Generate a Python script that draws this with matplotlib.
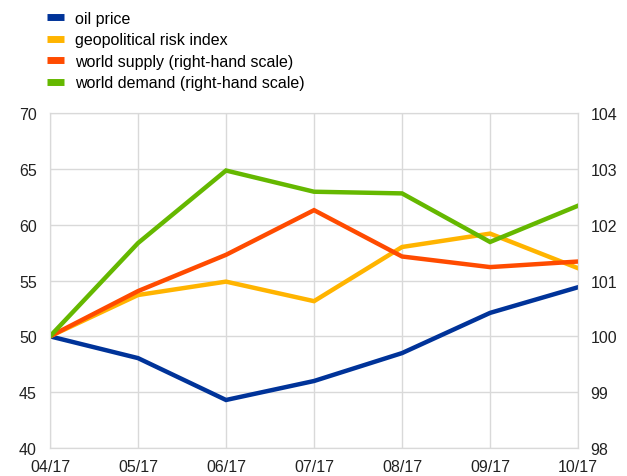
import matplotlib.pyplot as plt
from matplotlib.lines import Line2D

plt.rcParams['font.family'] = ['Liberation Sans', 'DejaVu Sans']

months = ["04/17", "05/17", "06/17", "07/17", "08/17", "09/17", "10/17"]
oil_price = [50.0, 48.05, 44.3, 46.0, 48.5, 52.1, 54.4]
geo_risk = [50.0, 53.7, 54.9, 53.15, 58.0, 59.2, 56.1]
world_supply = [100.0, 100.81, 101.46, 102.26, 101.43, 101.24, 101.34]
world_demand = [100.0, 101.67, 102.97, 102.59, 102.56, 101.69, 102.34]

labels = ["oil price", "geopolitical risk index",
          "world supply (right-hand scale)", "world demand (right-hand scale)"]
colors = ["#003399", "#FFB400", "#FF4B00", "#65B800"]
grid_c = "#d9d9d9"

fig = plt.figure(figsize=(6.27, 4.77), dpi=100)
ax = fig.add_axes([0.0797, 0.0587, 0.8423, 0.7023])
ax2 = ax.twinx()

x = range(len(months))
ax.plot(x, oil_price, color=colors[0], lw=3.2, solid_joinstyle='miter')
ax.plot(x, geo_risk, color=colors[1], lw=3.2, solid_joinstyle='miter')
ax2.plot(x, world_supply, color=colors[2], lw=3.2, solid_joinstyle='miter')
ax2.plot(x, world_demand, color=colors[3], lw=3.2, solid_joinstyle='miter')

ax.set_xlim(0, len(months) - 1)
ax.set_ylim(40, 70)
ax2.set_ylim(98, 104)
ax.set_xticks(list(x))
ax.set_xticklabels(months)
ax.set_yticks(range(40, 71, 5))
ax2.set_yticks(range(98, 105))

ax.grid(True, color=grid_c, lw=1)
ax.set_axisbelow(True)
for a in (ax, ax2):
    for s in a.spines.values():
        s.set_color(grid_c)
    a.tick_params(length=0, labelsize=11.5, colors="#222222")
ax.tick_params(axis='y', pad=9.5)
ax2.tick_params(axis='y', pad=9)
ax.tick_params(axis='x', pad=8)

handles = [Line2D([], [], color=c, lw=5, solid_capstyle='butt') for c in colors]
fig.legend(handles, labels, loc='upper left', bbox_to_anchor=(0.0516, 1.005),
           frameon=False, fontsize=11.5, handlelength=1.06, handletextpad=0.7,
           labelspacing=0.4)

fig.savefig("out.png", dpi=100)
